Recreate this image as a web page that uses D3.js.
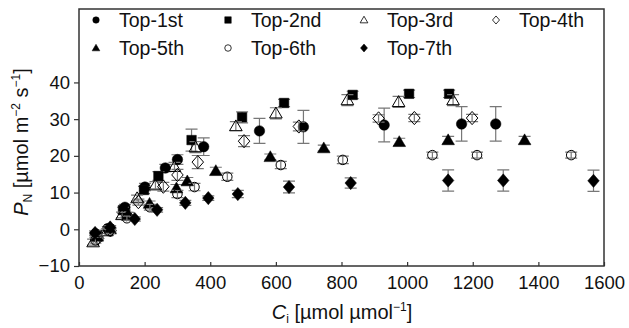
<!DOCTYPE html>
<html><head><meta charset="utf-8">
<script src="https://cdn.jsdelivr.net/npm/d3@7"></script>
<style>body{margin:0;background:#fff}svg{display:block}text{font-family:"Liberation Sans",Arial,sans-serif}</style>
</head><body><svg id="c" width="629" height="328"></svg>
<script>
// data: [Ci, PN, error]
const top1 = [[50,-1.2,0.5],[88,0.2,0.5],[140,6,0.8],[201,11.5,1],[263,16.7,1],[300,19,1.3],[380,22.5,2.4],[550,26.8,3.4],[684,27.9,4.5],[930,28.4,4.6],[1166,28.7,4.7],[1270,28.7,4.7]];
const top2 = [[55,-1.5,0.5],[92,0,0.5],[134,5.2,0.8],[198,10.7,1],[242,14.5,1.2],[343,24.3,3],[497,30.5,1.5],[625,34.4,1],[834,36.6,1],[1006,36.9,1],[1128,36.9,1]];
const top3 = [[43,-3.5,0.8],[85,-0.5,0.6],[131,3.9,0.8],[177,8.5,0.8],[233,12,1],[291,17,1.2],[355,22.4,1.5],[478,28.1,1.2],[600,31.6,1.5],[818,35.2,1.5],[974,34.7,1.5],[1140,35.2,1.5]];
const top4 = [[58,-2.5,0.5],[96,-0.3,0.5],[145,4,0.6],[181,7.4,0.8],[257,11.6,1.2],[300,14.8,1.5],[362,18.3,1.8],[503,24,1.5],[670,28,1.2],[913,30.2,1],[1022,30.3,1],[1198,30.3,1]];
const top5 = [[55,-2,0.5],[95,0,0.5],[150,4,0.6],[215,7,0.7],[297,11.2,1],[330,13.1,1],[417,15.9,1],[583,19.7,0.8],[746,22.1,0.8],[976,23.8,1],[1125,24.3,1],[1358,24.3,1]];
const top6 = [[50,-3,0.8],[92,-0.5,0.6],[146,3,0.6],[216,6,0.8],[300,9.6,1],[352,11.5,1],[452,14.3,1],[615,17.5,1],[804,18.9,1],[1077,20.2,0.8],[1213,20.2,0.8],[1500,20.2,0.8]];
const top7 = [[49,-1,0.6],[95,0.5,0.5],[170,2.8,0.6],[238,5.3,0.6],[324,7.2,0.7],[394,8.5,0.6],[484,9.6,1],[640,11.5,1.6],[828,12.6,1.4],[1125,13.3,2.9],[1293,13.3,2.9],[1568,13.2,2.9]];
const seriesNames = ["Top-1st","Top-2nd","Top-3rd","Top-4th","Top-5th","Top-6th","Top-7th"];
const seriesData = [top1,top2,top3,top4,top5,top6,top7];
const seriesShapes = ["circle","square","triangle","diamond","triangle","circle","diamond"];
const seriesFilled = [true,true,false,false,true,false,true];
const xTicks = [0,200,400,600,800,1000,1200,1400,1600];
const yTicks = [-10,0,10,20,30,40];

const svg = d3.select("#c");
const L=79,R=604,T=9,B=266;
const x = d3.scaleLinear().domain([0,1600]).range([L,R]);
const y = d3.scaleLinear().domain([-10,60]).range([B,T]);
const FS = 18.5, LFS = 19.5, TFS = 20;

function shapePath(shape, s){
  const h=s/2;
  if(shape==="circle") return `M${h},0A${h},${h} 0 1,1 ${-h},0A${h},${h} 0 1,1 ${h},0Z`;
  if(shape==="square") return `M${-h},${-h}H${h}V${h}H${-h}Z`;
  if(shape==="triangle"){const th=s*0.9;return `M0,${-th*0.6}L${h*1.1},${th*0.45}L${-h*1.1},${th*0.45}Z`;}
  if(shape==="diamond") return `M0,${-h*1.15}L${h},0L0,${h*1.15}L${-h},0Z`;
}

// axes
const xAxis = d3.axisBottom(x).tickValues(xTicks).tickSize(-4).tickPadding(9).tickFormat(d3.format("d"));
const gx = svg.append("g").attr("transform",`translate(0,${B})`).call(xAxis);
gx.select(".domain").remove();
gx.selectAll(".tick line").attr("stroke","#333").attr("stroke-width",1.2);
gx.selectAll(".tick text").attr("font-size",FS).attr("fill","#111").attr("dy","0.75em");
const yAxis = d3.axisLeft(y).tickValues(yTicks).tickSize(5).tickPadding(4);
const gy = svg.append("g").attr("transform",`translate(${L},0)`).call(yAxis);
gy.select(".domain").remove();
gy.selectAll(".tick line").attr("stroke","#333").attr("stroke-width",1.2);
gy.selectAll(".tick text").attr("font-size",FS).attr("fill","#111");

// frame
svg.append("rect").attr("x",L).attr("y",T).attr("width",R-L).attr("height",B-T)
  .attr("fill","none").attr("stroke","#333").attr("stroke-width",1.5);

// series
seriesData.forEach((data,i)=>{
  const g = svg.append("g");
  const shape=seriesShapes[i], filled=seriesFilled[i];
  const size = shape==="square"?9.5:(shape==="circle"?(filled?10.5:9.5):11.5);
  data.forEach(d=>{
    const cx=x(d[0]);
    g.append("path").attr("d",`M${cx},${y(d[1]-d[2])}V${y(d[1]+d[2])}M${cx-6},${y(d[1]-d[2])}H${cx+6}M${cx-6},${y(d[1]+d[2])}H${cx+6}`)
      .attr("stroke","#777").attr("stroke-width",1.2).attr("fill","none");
  });
  g.selectAll("path.m").data(data).join("path").attr("class","m")
    .attr("transform",d=>`translate(${x(d[0])},${y(d[1])})`)
    .attr("d",shapePath(shape,size))
    .attr("fill",filled?"#000":"none").attr("stroke","#000").attr("stroke-width",filled?0.5:1);
});

// legend
const legX=[96,228,364,496], legY=[20,48];
seriesNames.forEach((n,i)=>{
  const cx=legX[i%4], cy=legY[Math.floor(i/4)];
  const shape=seriesShapes[i], filled=seriesFilled[i];
  svg.append("path").attr("transform",`translate(${cx},${cy})`).attr("d",shapePath(shape,shape==="triangle"?7:(shape==="diamond"?7:6.5)))
    .attr("fill",filled?"#000":"none").attr("stroke","#000").attr("stroke-width",filled?0.5:0.8);
  svg.append("text").attr("x",cx+23).attr("y",cy).attr("dy","0.35em").attr("font-size",LFS).attr("fill","#111").text(n);
});

// axis titles
const xt = svg.append("text").attr("x",342).attr("y",319).attr("text-anchor","middle").attr("font-size",TFS).attr("fill","#111");
xt.append("tspan").attr("font-style","italic").text("C");
xt.append("tspan").attr("font-size",12).attr("dy",4).text("i");
xt.append("tspan").attr("dy",-4).text(" [µmol µmol");
xt.append("tspan").attr("font-size",12).attr("dy",-8).text("−1");
xt.append("tspan").attr("dy",8).text("]");

const yt = svg.append("text").attr("transform","translate(28,142) rotate(-90)").attr("text-anchor","middle").attr("font-size",TFS).attr("fill","#111");
yt.append("tspan").attr("font-style","italic").text("P");
yt.append("tspan").attr("font-size",12).attr("dy",4).text("N");
yt.append("tspan").attr("dy",-4).text(" [µmol m");
yt.append("tspan").attr("font-size",12).attr("dy",-8).text("−2");
yt.append("tspan").attr("dy",8).text(" s");
yt.append("tspan").attr("font-size",12).attr("dy",-8).text("−1");
yt.append("tspan").attr("dy",8).text("]");
</script></body></html>
